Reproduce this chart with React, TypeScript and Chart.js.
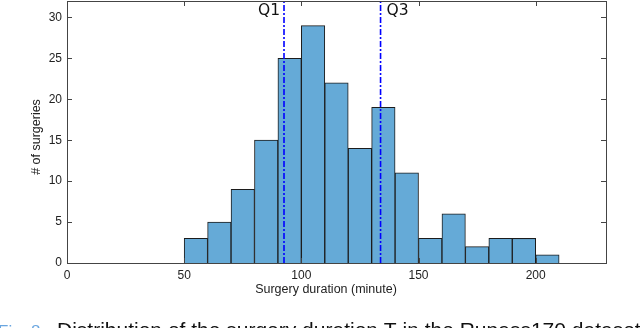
import React, { useEffect, useRef } from "react";
import { Chart, registerables } from "chart.js";

Chart.register(...registerables);

const binCenters = [55, 65, 75, 85, 95, 105, 115, 125, 135, 145, 155, 165, 175, 185, 195, 205];
const counts = [3, 5, 9, 15, 25, 29, 22, 14, 19, 11, 3, 6, 2, 3, 3, 1];
const xTicks = [0, 50, 100, 150, 200];
const yTicks = [0, 5, 10, 15, 20, 25, 30];
const q1 = 92.6;
const q3 = 133.8;
const xTitle = "Surgery duration (minute)";
const yTitle = "# of surgeries";
const captionLabel = "Fig. 8.";
const captionText = "Distribution of the surgery duration T in the Rupass170 dataset";

const W = 640;
const H = 328;

const framePlugin = {
  id: "framePlugin",
  afterDraw(chart: any) {
    const ctx = chart.ctx;
    const { left, right, top, bottom } = chart.chartArea;
    const xs = chart.scales.x;
    const ys = chart.scales.y;
    ctx.save();
    ctx.strokeStyle = "#444";
    ctx.lineWidth = 1;
    ctx.strokeRect(Math.round(left) + 0.5, Math.round(top) + 0.5, Math.round(right - left), Math.round(bottom - top));
    const tl = 5;
    ctx.beginPath();
    xTicks.forEach((v) => {
      const px = Math.round(xs.getPixelForValue(v)) + 0.5;
      ctx.moveTo(px, bottom);
      ctx.lineTo(px, bottom - tl);
      ctx.moveTo(px, top);
      ctx.lineTo(px, top + tl);
    });
    yTicks.forEach((v) => {
      const py = Math.round(ys.getPixelForValue(v)) + 0.5;
      ctx.moveTo(left, py);
      ctx.lineTo(left + tl, py);
      ctx.moveTo(right, py);
      ctx.lineTo(right - tl, py);
    });
    ctx.stroke();

    // Q labels
    ctx.fillStyle = "#111";
    ctx.font = "15.5px 'DejaVu Sans'";
    ctx.textBaseline = "alphabetic";
    ctx.textAlign = "right";
    ctx.fillText("Q1", xs.getPixelForValue(q1) - 4, 15);
    ctx.textAlign = "left";
    ctx.fillText("Q3", xs.getPixelForValue(q3) + 6, 15);

    // axis titles
    ctx.fillStyle = "#222";
    ctx.font = "12.5px 'Liberation Sans', Arial, sans-serif";
    ctx.textAlign = "center";
    ctx.textBaseline = "middle";
    ctx.fillText(xTitle, 326, 290);
    ctx.save();
    ctx.translate(37, 137);
    ctx.rotate(-Math.PI / 2);
    ctx.fillText(yTitle, 0, 0);
    ctx.restore();

    // caption (cut off at the bottom)
    ctx.textBaseline = "alphabetic";
    ctx.textAlign = "left";
    ctx.font = "17px 'Liberation Sans', Arial, sans-serif";
    ctx.fillStyle = "#6aa6e0";
    ctx.fillText(captionLabel, -2, 337);
    ctx.font = "21px 'Liberation Sans', Arial, sans-serif";
    ctx.fillStyle = "#111";
    ctx.fillText(captionText, 57, 337);
    ctx.restore();
  },
};

export default function App() {
  const ref = useRef<HTMLCanvasElement | null>(null);
  useEffect(() => {
    if (!ref.current) return;
    const barData = binCenters.map((x, i) => ({ x, y: counts[i] }));
    const chart = new Chart(ref.current, {
      type: "bar",
      data: {
        datasets: [
          {
            type: "line",
            data: [
              { x: q1, y: 0 },
              { x: q1, y: 32 },
            ],
            borderColor: "#0000ff",
            borderWidth: 1.6,
            borderDash: [6, 2, 2, 2],
            pointRadius: 0,
            order: 0,
          } as any,
          {
            type: "line",
            data: [
              { x: q3, y: 0 },
              { x: q3, y: 32 },
            ],
            borderColor: "#0000ff",
            borderWidth: 1.6,
            borderDash: [6, 2, 2, 2],
            pointRadius: 0,
            order: 0,
          } as any,
          {
            type: "bar",
            data: barData,
            backgroundColor: "#65aad7",
            borderColor: "#1c1c1c",
            borderWidth: 1,
            barPercentage: 1,
            categoryPercentage: 1,
            order: 1,
          } as any,
        ],
      },
      options: {
        responsive: false,
        animation: false,
        layout: { padding: { left: 0, right: 34, top: 1, bottom: 0 } },
        plugins: { legend: { display: false }, tooltip: { enabled: false } },
        scales: {
          x: {
            type: "linear",
            min: 0,
            max: 230,
            offset: false,
            grid: { display: false, drawTicks: false },
            border: { display: false },
            afterBuildTicks: (s: any) => {
              s.ticks = xTicks.map((v) => ({ value: v }));
            },
            afterFit: (s: any) => {
              s.height = H - 263;
              s.paddingLeft = 0;
              s.paddingRight = 0;
            },
            ticks: {
              padding: 5,
              maxRotation: 0,
              color: "#222",
              font: { family: "'Liberation Sans', Arial, sans-serif", size: 12 },
            },
          },
          y: {
            type: "linear",
            min: 0,
            max: 32,
            grid: { display: false, drawTicks: false },
            border: { display: false },
            afterBuildTicks: (s: any) => {
              s.ticks = yTicks.map((v) => ({ value: v }));
            },
            afterFit: (s: any) => {
              s.width = 67;
              s.paddingTop = 0;
              s.paddingBottom = 0;
            },
            ticks: {
              padding: 5,
              color: "#222",
              font: { family: "'Liberation Sans', Arial, sans-serif", size: 12 },
            },
          },
        },
      } as any,
      plugins: [framePlugin],
    });
    return () => chart.destroy();
  }, []);
  return (
    <div style={{ position: "fixed", left: 0, top: 0, width: W, height: H, background: "#fff", overflow: "hidden" }}>
      <canvas ref={ref} width={W} height={H} style={{ width: W, height: H, display: "block" }} />
    </div>
  );
}
